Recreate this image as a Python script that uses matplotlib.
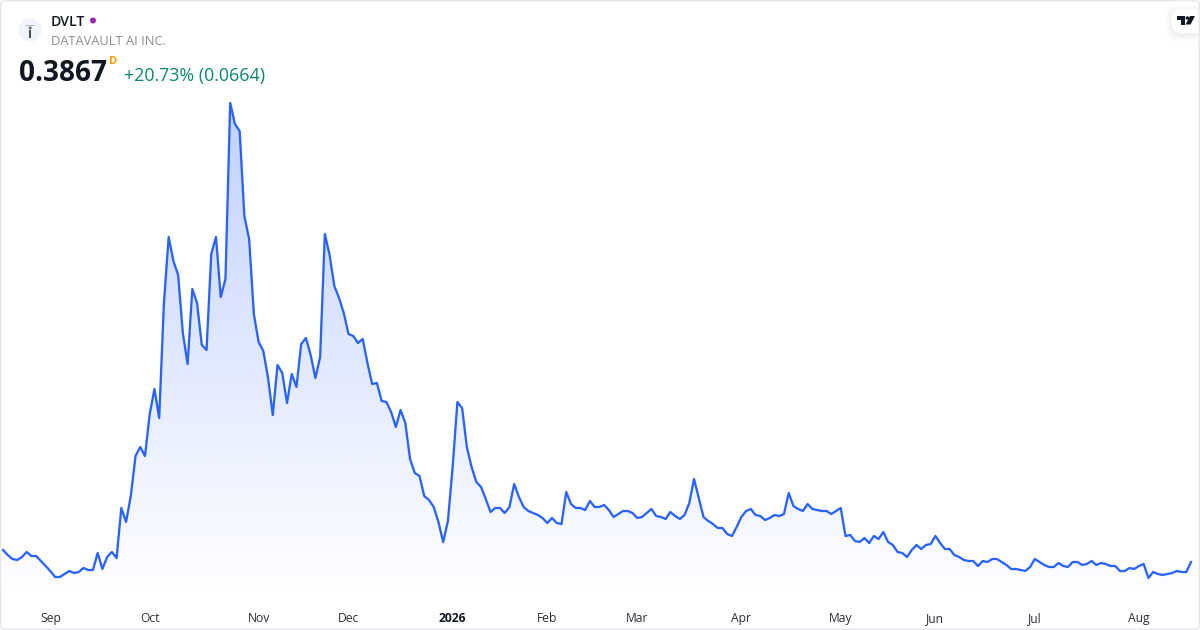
import numpy as np
import matplotlib
matplotlib.use("Agg")
import matplotlib.pyplot as plt
from matplotlib.patches import Circle, FancyBboxPatch, Polygon, Rectangle

plt.rcParams['font.family'] = ['Open Sans', 'DejaVu Sans']

prices = [
 0.471,0.436,0.408,0.401,0.422,0.457,0.429,0.429,0.394,0.359,0.324,0.282,0.282,0.303,0.324,0.310,0.317,0.345,0.331,0.331,0.450,0.338,0.422,0.457,0.415,
 0.765,0.667,0.849,1.129,1.192,1.129,1.423,1.598,1.395,2.200,2.662,2.494,2.396,1.990,1.773,2.298,2.200,1.906,1.871,2.543,2.662,2.242,2.368,3.600,3.453,3.404,2.809,2.648,2.123,1.927,1.864,1.675,1.416,1.766,1.710,1.500,1.703,1.612,1.913,
 1.955,1.836,1.675,1.822,2.683,2.536,2.319,2.235,2.130,1.983,1.969,1.920,1.948,1.780,1.633,1.640,1.514,1.507,1.437,1.332,1.451,1.360,1.108,1.010,0.989,0.849,0.821,0.772,0.667,0.527,0.674,1.052,1.507,1.465,1.192,1.052,0.947,0.912,0.828,0.737,0.765,0.765,0.730,0.772,0.933,0.842,0.772,0.744,0.730,0.716,0.695,0.660,0.695,0.660,0.653,0.877,0.793,0.765,0.765,0.751,0.814,0.772,
 0.772,0.786,0.751,0.702,0.723,0.744,0.744,0.730,0.695,0.702,0.730,0.758,0.709,0.702,0.688,0.737,0.709,0.688,0.716,0.800,0.968,0.835,0.702,0.674,0.653,0.625,0.625,0.583,0.569,0.632,0.702,0.744,0.758,0.716,0.709,0.681,0.695,0.716,0.709,0.723,0.870,0.779,0.758,0.744,0.793,0.758,0.751,0.744,0.744,0.723,0.744,0.765,0.569,0.576,0.534,0.527,0.555,0.520,0.569,0.548,0.597,0.527,0.506,0.457,
 0.450,0.422,0.471,0.506,0.478,0.506,0.513,0.569,0.520,0.478,0.478,0.436,0.422,0.401,0.394,0.394,0.359,0.394,0.387,0.408,0.408,0.387,0.366,0.338,0.338,0.331,0.324,0.352,0.408,0.387,0.366,0.352,0.352,0.380,0.359,0.352,0.387,0.387,0.366,0.373,0.394,0.366,0.380,0.373,0.359,0.359,0.324,0.324,0.345,0.338,0.359,0.373,0.275,0.317,0.303,0.296,0.303,0.310,0.324,0.317,0.317,0.3867,
]
month_positions = [10, 31, 54, 73, 95, 115, 134, 156, 177, 197, 218, 240]
month_labels = ["Sep", "Oct", "Nov", "Dec", "2026", "Feb", "Mar", "Apr", "May", "Jun", "Jul", "Aug"]
symbol = "DVLT"
company = "DATAVAULT AI INC."
last_price = "0.3867"
change_text = "+20.73% (0.0664)"

BLUE = "#2962FF"
fig = plt.figure(figsize=(12, 6.3), dpi=100, facecolor="white")
ax = fig.add_axes([0, 1 - 604 / 630, 1, 604 / 630])
xs = np.arange(len(prices))
x0, x1 = -0.634, 252.9
y0, y1 = 0.093, 4.321

poly = ax.fill_between(xs, prices, y0, facecolor="none", edgecolor="none")
grad = np.zeros((256, 1, 4))
grad[..., :3] = matplotlib.colors.to_rgb(BLUE)
top_y, bot_y = max(prices), 0.13
grad[:, 0, 3] = np.linspace(0.29, 0.0, 256)
im = ax.imshow(grad, extent=[x0, x1, bot_y, top_y], aspect="auto", origin="upper", zorder=1, interpolation="bilinear")
im.set_clip_path(poly.get_paths()[0], transform=ax.transData)
ax.plot(xs, prices, color=BLUE, lw=1.65, solid_joinstyle="round", zorder=2)
ax.set_xlim(x0, x1)
ax.set_ylim(y0, y1)
ax.set_yticks([])
ax.set_xticks(month_positions)
ax.set_xticklabels(month_labels, fontsize=8.7, color="#2a2e39")
ax.tick_params(axis="x", length=0, pad=5.7)
for t in ax.get_xticklabels():
    if t.get_text() == "2026":
        t.set_fontweight("bold")
        t.set_color("#131722")
for s in ax.spines.values():
    s.set_visible(False)
ax.patch.set_alpha(0)

ov = fig.add_axes([0, 0, 1, 1], zorder=5)
ov.set_xlim(0, 1200)
ov.set_ylim(630, 0)
ov.axis("off")
# TradingView pill
for k, a in zip((6, 4, 2), (0.012, 0.018, 0.025)):
    ov.add_patch(FancyBboxPatch((1171 - k, 9 - k + 2), 50 + 2 * k, 24 + 2 * k, boxstyle="round,pad=0,rounding_size=12",
                                fc="black", ec="none", alpha=a, clip_on=True))
ov.add_patch(FancyBboxPatch((1171, 9), 50, 24, boxstyle="round,pad=0,rounding_size=12", fc="white", ec="none", clip_on=True))
ov.add_patch(Polygon([(1177, 16), (1185, 16), (1185, 24.5), (1181.3, 24.5), (1181.3, 19.7), (1177, 19.7)], fc="#131722", ec="none"))
ov.add_patch(Circle((1187.3, 18), 1.7, fc="#131722", ec="none"))
ov.add_patch(Polygon([(1190, 16), (1195, 16), (1190.5, 24.5), (1185.5, 24.5)], fc="#131722", ec="none"))
ov.add_patch(FancyBboxPatch((0.7, 0.7), 1198.6, 628.6, boxstyle="round,pad=0,rounding_size=4",
                            fc="none", ec="#e6e8ee", lw=1.1))
# logo
ov.add_patch(Circle((30, 30), 11.5, fc="#f0f3fa", ec="none"))
ov.add_patch(Rectangle((29.2, 30), 2, 8, fc="#4a4d57", ec="none"))
ov.add_patch(Circle((30.2, 28), 1.5, fc="#6a6d77", ec="none"))
ov.add_patch(Rectangle((26, 24.5), 8.5, 1.2, fc="#b4b7c0", ec="none"))
# header
ov.text(51, 22, symbol, fontsize=10.1, fontweight="semibold", color="#131722", va="center", ha="left")
ov.add_patch(Circle((93, 20.5), 3, fc="#9c27b0", ec="none"))
ov.text(51, 41.5, company, fontsize=9.25, color="#8a8d96", va="center", ha="left")
ov.text(19, 73.5, last_price, fontsize=20.2, fontweight="bold", color="#131722", va="center", ha="left")
ov.text(109, 61, "D", fontsize=7.9, fontweight="bold", color="#ff9800", va="center", ha="left")
ov.text(124, 76.5, change_text, fontsize=12.85, color="#0b8570", va="center", ha="left")

fig.savefig("out.png", dpi=100)
